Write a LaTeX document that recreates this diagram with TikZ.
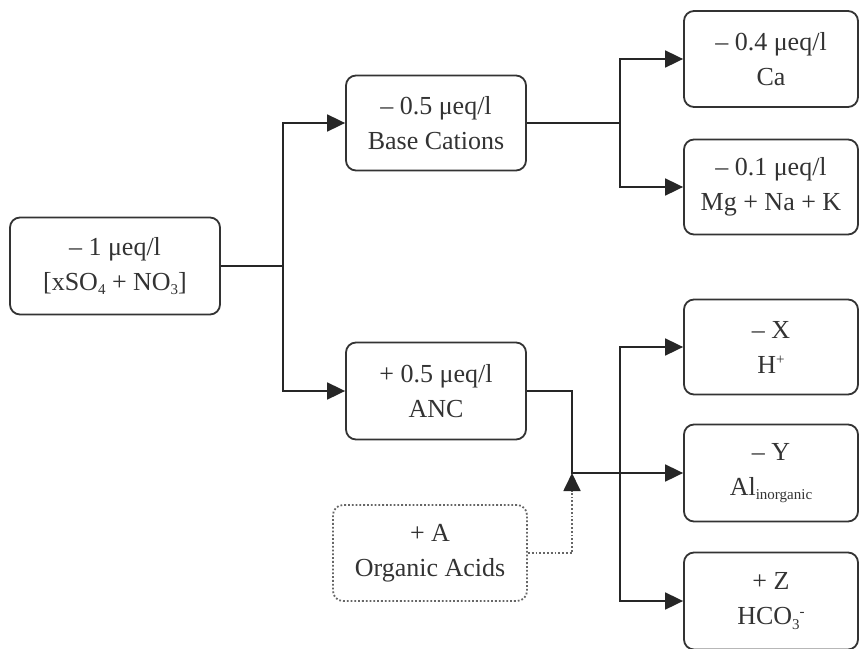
\documentclass[tikz,border=0pt]{standalone}
\usepackage{fontspec}
\setmainfont{Liberation Serif}
\usetikzlibrary{arrows.meta,calc}
\newcommand\lsub[1]{\raisebox{-0.35ex}{\fontsize{15}{15}\selectfont #1}}
\newcommand\lsup[1]{\raisebox{0.7ex}{\fontsize{15}{15}\selectfont #1}}
\begin{document}
\begin{tikzpicture}[x=1pt,y=-1pt,
  box/.style={draw=black!80, line width=1.8pt, rounded corners=10pt, align=center,
    font=\fontsize{26}{35}\selectfont, text=black!80, inner sep=0pt},
  dbox/.style={box, dotted, draw=black!60},
  conn/.style={draw=black!85, line width=1.8pt},
  arr/.style={conn, -{Triangle[length=18pt,width=17pt]}},
  darr/.style={draw=black!60, line width=1.8pt, dotted, -{Triangle[length=18pt,width=17pt,color=black!85,fill=black!85]}}]
\useasboundingbox (0,0) rectangle (859,648);
\fill[white] (0,0) rectangle (859,648);
\node[box, minimum width=210pt, minimum height=97pt] (src) at (115,266) {-- 1 μeq/l\\{}[xSO\lsub{4} + NO\lsub{3}]};
\node[box, minimum width=180pt, minimum height=95pt] (bc) at (436,123) {-- 0.5 μeq/l\\Base Cations};
\node[box, minimum width=180pt, minimum height=97pt] (anc) at (436,391) {+ 0.5 μeq/l\\ANC};
\node[dbox, minimum width=194pt, minimum height=96pt] (org) at (430,553) {+ A\\Organic Acids};
\node[box, minimum width=174pt, minimum height=96pt] (ca) at (771,59) {-- 0.4 μeq/l\\Ca};
\node[box, minimum width=174pt, minimum height=95pt] (mg) at (771,187) {-- 0.1 μeq/l\\Mg + Na + K};
\node[box, minimum width=174pt, minimum height=95pt] (h) at (771,347) {-- X\\H\lsup{+}};
\node[box, minimum width=174pt, minimum height=97pt] (al) at (771,473) {-- Y\\Al\lsub{inorganic}};
\node[box, minimum width=174pt, minimum height=97pt] (hco) at (771,601) {+ Z\\HCO\lsub{3}\lsup{-}};
\coordinate (j1) at (283,266);
\coordinate (j2) at (620,123);
\coordinate (j3) at (572,473);
\coordinate (j4) at (620,473);
\draw[conn] (src.east) -- (j1);
\draw[arr] (j1) |- (bc.west);
\draw[arr] (j1) |- (anc.west);
\draw[conn] (bc.east) -- (j2);
\draw[arr] (j2) |- (ca.west);
\draw[arr] (j2) |- (mg.west);
\draw[conn] (anc.east) -| (j3) -- (j4);
\draw[arr] (j4) |- (h.west);
\draw[arr] (j4) -- (al.west);
\draw[arr] (j4) |- (hco.west);
\draw[darr] (org.east) -| (j3);
\end{tikzpicture}
\end{document}
